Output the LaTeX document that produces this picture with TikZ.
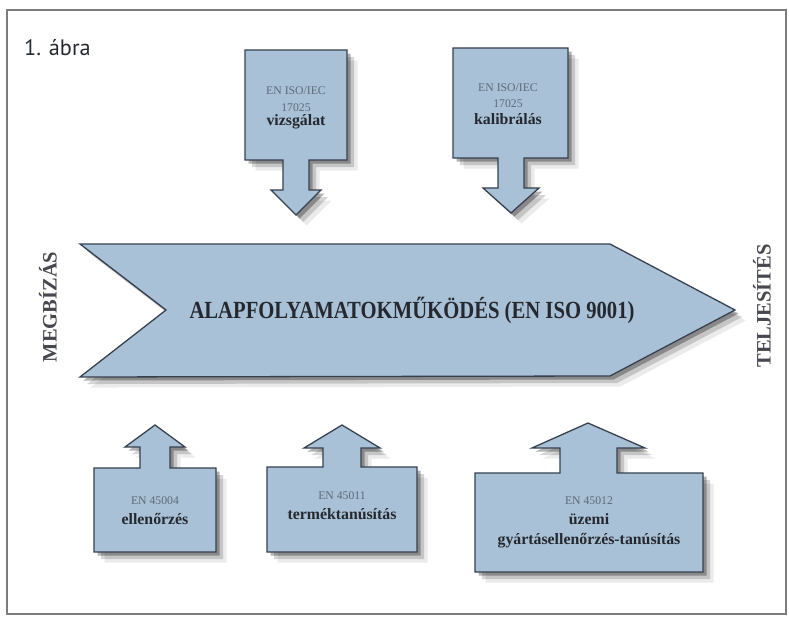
\documentclass[tikz,border=0pt]{standalone}
\usepackage{fontspec}
\setmainfont{Liberation Serif}
\newfontfamily\titlefont{PT Sans}
\definecolor{boxfill}{RGB}{168,193,214}
\definecolor{boxline}{RGB}{55,64,78}
\definecolor{ink}{RGB}{38,40,48}
\definecolor{soft}{RGB}{95,105,120}
\definecolor{frameline}{RGB}{125,125,125}
\usetikzlibrary{shadows}
\newcommand{\enline}[1]{{\mdseries\fontsize{10}{12}\selectfont\color{soft}#1}}

\begin{document}
\begin{tikzpicture}[x=3cm,y=-3cm,
    boxarrow/.style={fill=boxfill, draw=boxline, line width=1.1pt, line join=miter,
      drop shadow={shadow xshift=9pt, shadow yshift=-9pt, opacity=0.08, fill=black},
      drop shadow={shadow xshift=6pt, shadow yshift=-6pt, opacity=0.16, fill=black},
      drop shadow={shadow xshift=3pt, shadow yshift=-3pt, opacity=0.3, fill=black}},
    boxtext/.style={align=center, text=ink, inner sep=0pt,
      font=\bfseries\fontsize{13.5}{17}\selectfont},
    sidelabel/.style={rotate=90, text=ink!85, font=\bfseries\fontsize{17.5}{20}\selectfont}]
  \useasboundingbox (0,0) rectangle (7.89,6.17);
  \fill[white] (0,0) rectangle (7.89,6.17);
  \draw[frameline, line width=1.2pt] (0.07,0.10) rectangle (7.86,6.14);
  \node[anchor=west, text=ink, font=\titlefont\fontsize{19}{22}\selectfont] (title) at (0.20,0.48) {1. ábra};

  % upper standards, pointing down
  \draw[boxarrow] (2.45,0.50) -- (3.47,0.50) -- (3.47,1.60) -- (3.09,1.60) -- (3.09,1.90)
    -- (3.21,1.90) -- (2.96,2.15) -- (2.71,1.90) -- (2.83,1.90) -- (2.83,1.60) -- (2.45,1.60) -- cycle;
  \draw[boxarrow] (4.53,0.48) -- (5.68,0.48) -- (5.68,1.58) -- (5.24,1.58) -- (5.24,1.88)
    -- (5.39,1.88) -- (5.11,2.13) -- (4.83,1.88) -- (4.98,1.88) -- (4.98,1.58) -- (4.53,1.58) -- cycle;
  \node[boxtext] (vizsg) at (2.96,1.08) {\enline{EN ISO/IEC}\\[-3pt]\enline{17025}\\[-5pt]vizsgálat};
  \node[boxtext] (kalib) at (5.08,1.04) {\enline{EN ISO/IEC}\\[-3pt]\enline{17025}\\[-3pt]kalibrálás};

  % main process
  \draw[boxarrow] (0.80,2.44) -- (6.10,2.44) -- (7.35,3.10) -- (6.10,3.76) -- (0.80,3.77)
    -- (1.66,3.10) -- cycle;
  \node[text=ink, font=\bfseries\fontsize{21}{24}\selectfont] (main) at (4.12,3.10)
    {\scalebox{0.84}[1]{ALAPFOLYAMATOKMŰKÖDÉS (EN ISO 9001)}};
  \node[sidelabel] (megbizas) at (0.48,3.07) {MEGBÍZÁS};
  \node[sidelabel] (teljesites) at (7.62,3.06) {TELJESÍTÉS};

  % lower standards, pointing up
  \draw[boxarrow] (0.94,5.52) -- (0.94,4.68) -- (1.40,4.68) -- (1.40,4.47) -- (1.25,4.47)
    -- (1.55,4.25) -- (1.85,4.47) -- (1.70,4.47) -- (1.70,4.68) -- (2.16,4.68) -- (2.16,5.52) -- cycle;
  \draw[boxarrow] (2.67,5.52) -- (2.67,4.67) -- (3.23,4.67) -- (3.23,4.48) -- (3.04,4.48)
    -- (3.42,4.25) -- (3.80,4.48) -- (3.61,4.48) -- (3.61,4.67) -- (4.17,4.67) -- (4.17,5.52) -- cycle;
  \draw[boxarrow] (4.75,5.72) -- (4.75,4.73) -- (5.60,4.73) -- (5.60,4.48) -- (5.32,4.48)
    -- (5.88,4.23) -- (6.45,4.48) -- (6.17,4.48) -- (6.17,4.73) -- (7.03,4.73) -- (7.03,5.72) -- cycle;
  \node[boxtext] (ellen) at (1.55,5.11) {\enline{EN 45004}\\ellenőrzés};
  \node[boxtext] (termek) at (3.42,5.06) {\enline{EN 45011}\\terméktanúsítás};
  \node[boxtext] (uzemi) at (5.89,5.22) {\enline{EN 45012}\\üzemi\\gyártásellenőrzés-tanúsítás};
\end{tikzpicture}
\end{document}
